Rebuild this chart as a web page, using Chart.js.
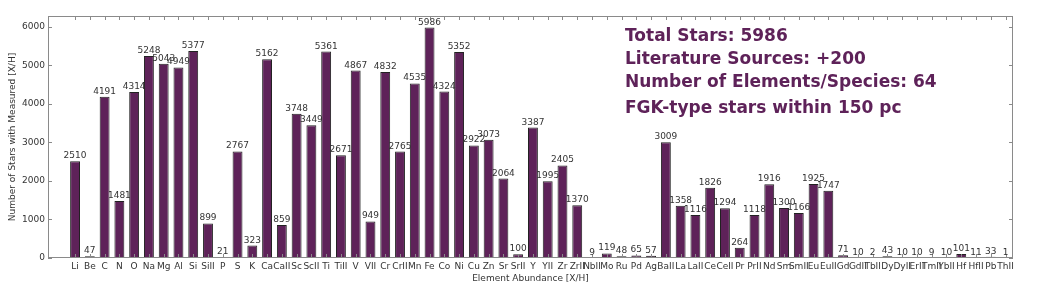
<!DOCTYPE html>
<html>
<head>
<meta charset="utf-8">
<script src="https://cdn.jsdelivr.net/npm/chart.js@4"></script>
<style>
  html, body { margin: 0; padding: 0; background: #fff; }
</style>
</head>
<body>
<canvas id="graph" width="1049" height="288"></canvas>
<script>
'use strict';

// first slot is an empty placeholder bar drawn at zero
const elements = ['', 'Li', 'Be', 'C', 'N', 'O', 'Na', 'Mg', 'Al', 'Si', 'SiII', 'P', 'S', 'K', 'Ca', 'CaII',
    'Sc', 'ScII', 'Ti', 'TiII', 'V', 'VII', 'Cr', 'CrII', 'Mn', 'Fe', 'Co', 'Ni', 'Cu', 'Zn', 'Sr', 'SrII',
    'Y', 'YII', 'Zr', 'ZrII', 'NbII', 'Mo', 'Ru', 'Pd', 'Ag', 'BaII', 'La', 'LaII', 'Ce', 'CeII', 'Pr', 'PrII',
    'Nd', 'Sm', 'SmII', 'Eu', 'EuII', 'Gd', 'GdII', 'TbII', 'Dy', 'DyII', 'ErII', 'TmII', 'YbII', 'Hf', 'HfII',
    'Pb', 'ThII'];
const starCounts = [0, 2510, 47, 4191, 1481, 4314, 5248, 5043, 4949, 5377, 899, 21, 2767, 323, 5162, 859,
    3748, 3449, 5361, 2671, 4867, 949, 4832, 2765, 4535, 5986, 4324, 5352, 2922, 3073, 2064, 100,
    3387, 1995, 2405, 1370, 9, 119, 48, 65, 57, 3009, 1358, 1116, 1826, 1294, 264, 1118,
    1916, 1300, 1166, 1925, 1747, 71, 10, 2, 43, 10, 10, 9, 10, 101, 11,
    33, 1];
const yTicks = [0, 1000, 2000, 3000, 4000, 5000, 6000];
const yMax = 6285;
const infoLines = [
    'Total Stars: 5986',
    'Literature Sources: +200',
    'Number of Elements/Species: 64',
    'FGK-type stars within 150 pc'
];

const purple = '#5e2259';
const textColor = '#333333';
const frameColor = '#8a8a8a';
const baseFont = 'DejaVu Sans';

const decorations = {
    id: 'decorations',
    afterDatasetsDraw(chart) {
        const ctx = chart.ctx;
        const area = chart.chartArea;
        const x = chart.scales.x;
        const y = chart.scales.y;

        ctx.save();
        // frame
        ctx.strokeStyle = frameColor;
        ctx.lineWidth = 1;
        ctx.strokeRect(area.left + 0.5, area.top + 0.5, area.right - area.left - 1, area.bottom - area.top - 1);

        // inward ticks
        ctx.beginPath();
        x.ticks.forEach(t => {
            if (t.value < 1) return;
            const px = Math.round(x.getPixelForValue(t.value)) + 0.5;
            ctx.moveTo(px, area.top);
            ctx.lineTo(px, area.top + 4);
            ctx.moveTo(px, area.bottom);
            ctx.lineTo(px, area.bottom - 4);
        });
        y.ticks.forEach(t => {
            const py = Math.round(y.getPixelForValue(t.value)) + 0.5;
            ctx.moveTo(area.left, py);
            ctx.lineTo(area.left + 4, py);
            ctx.moveTo(area.right, py);
            ctx.lineTo(area.right - 4, py);
        });
        ctx.stroke();

        // value labels above bars
        ctx.fillStyle = textColor;
        ctx.font = '9px "' + baseFont + '"';
        ctx.textAlign = 'center';
        ctx.textBaseline = 'alphabetic';
        const meta = chart.getDatasetMeta(0);
        meta.data.forEach((bar, i) => {
            if (!elements[i]) return;
            ctx.fillText(String(starCounts[i]), bar.x, bar.y - 3);
        });

        // summary text
        ctx.fillStyle = purple;
        ctx.font = 'bold 17px "' + baseFont + '"';
        ctx.textAlign = 'left';
        const baselines = [41, 64, 87, 113];
        infoLines.forEach((line, i) => {
            ctx.fillText(line, 625, baselines[i]);
        });
        ctx.restore();
    }
};

const ctx = document.getElementById('graph').getContext('2d');
new Chart(ctx, {
    type: 'bar',
    data: {
        datasets: [{
            data: starCounts.map((v, i) => ({ x: i, y: v })),
            backgroundColor: purple,
            borderColor: '#222222',
            borderWidth: 1,
            borderSkipped: false,
            barPercentage: 0.67,
            categoryPercentage: 1
        }]
    },
    options: {
        responsive: false,
        animation: false,
        devicePixelRatio: 1,
        layout: { padding: { top: 16, right: 36, left: 0, bottom: 0 } },
        plugins: {
            legend: { display: false },
            tooltip: { enabled: false }
        },
        scales: {
            x: {
                type: 'linear',
                min: -0.33,
                max: elements.length - 1,
                grid: { display: false, drawTicks: false },
                border: { display: false },
                afterBuildTicks: s => { s.ticks = elements.map((e, i) => ({ value: i })); },
                ticks: {
                    autoSkip: false,
                    maxRotation: 0,
                    padding: 3,
                    color: textColor,
                    font: { family: baseFont, size: 9 },
                    callback: v => elements[v] || ''
                },
                title: {
                    display: true,
                    text: 'Element Abundance [X/H]',
                    color: textColor,
                    font: { family: baseFont, size: 9 },
                    padding: { top: 0, bottom: 4 }
                },
                afterFit: s => { s.height = 30; }
            },
            y: {
                min: 0,
                max: yMax,
                grid: { display: false, drawTicks: false },
                border: { display: false },
                afterBuildTicks: s => { s.ticks = yTicks.map(v => ({ value: v })); },
                ticks: {
                    padding: 3,
                    color: textColor,
                    font: { family: baseFont, size: 9 },
                    callback: v => String(v)
                },
                title: {
                    display: true,
                    text: 'Number of Stars with Measured [X/H]',
                    color: textColor,
                    font: { family: baseFont, size: 9 },
                    padding: { top: 7, bottom: 0 }
                },
                afterFit: s => { s.width = 48; }
            }
        }
    },
    plugins: [decorations]
});
</script>
</body>
</html>
